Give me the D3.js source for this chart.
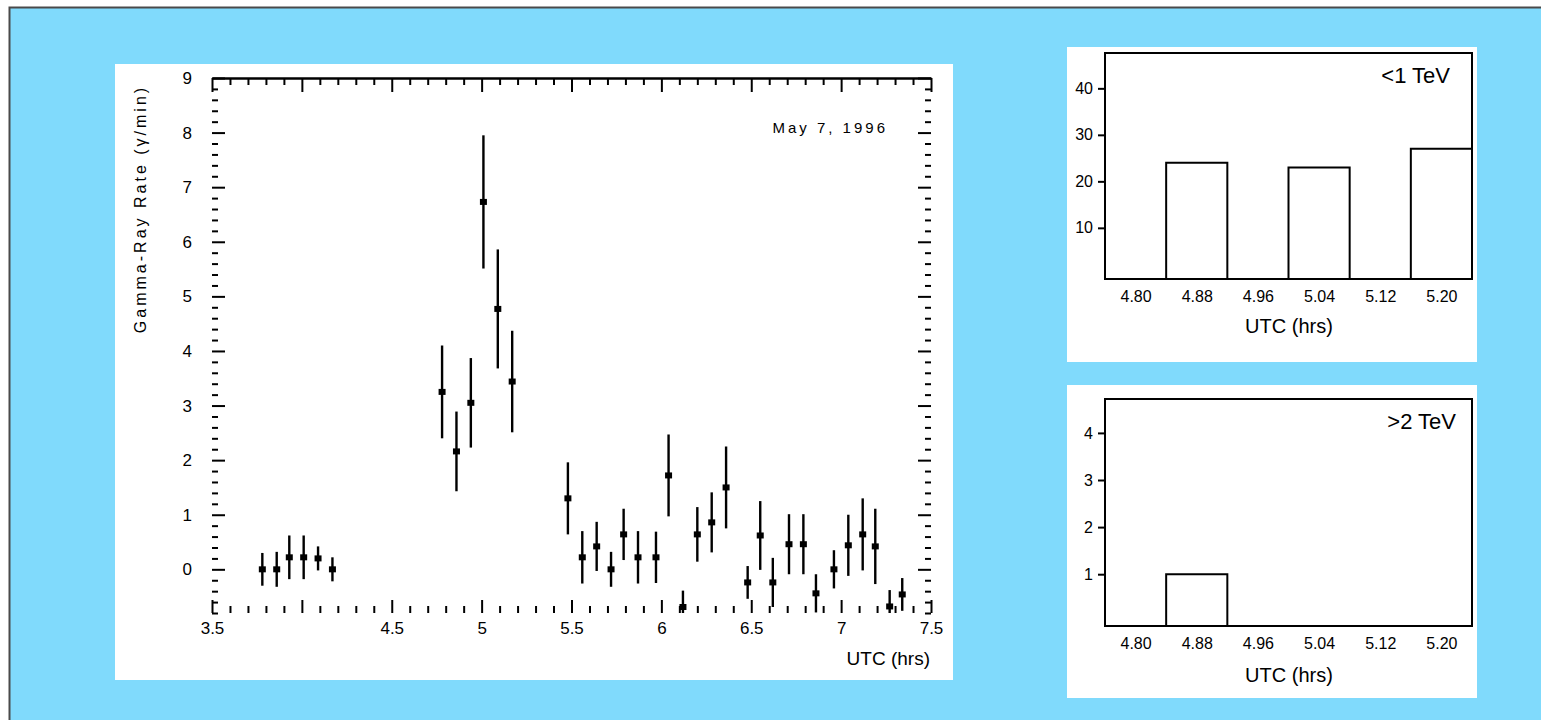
<!DOCTYPE html>
<html>
<head>
<meta charset="utf-8">
<script src="https://cdn.jsdelivr.net/npm/d3@7"></script>
<style>
  html, body { margin: 0; padding: 0; background: #fff; }
  svg { display: block; font-family: "Liberation Sans", Arial, Helvetica, sans-serif; }
</style>
</head>
<body>
<svg id="chart" width="1545" height="720"></svg>
<script>
// ---- Light curve, May 7 1996: bin centre (UTC hours), rate (gamma/min), 1-sigma error ----
const times = [3.78, 3.86, 3.93, 4.01, 4.09, 4.17,
               4.78, 4.86, 4.94, 5.01, 5.09, 5.17,
               5.48, 5.56, 5.64, 5.72, 5.79, 5.87, 5.97, 6.04, 6.12, 6.20, 6.28, 6.36,
               6.48, 6.55, 6.62, 6.71, 6.79, 6.86, 6.96, 7.04, 7.12, 7.19, 7.27, 7.34];
const rates = [0.00, 0.00, 0.22, 0.22, 0.20, 0.00,
               3.25, 2.16, 3.05, 6.73, 4.77, 3.44,
               1.30, 0.22, 0.42, 0.00, 0.64, 0.22, 0.22, 1.72, -0.69, 0.64, 0.86, 1.50,
               -0.24, 0.62, -0.24, 0.46, 0.46, -0.44, 0.00, 0.44, 0.64, 0.42, -0.68, -0.46];
const errors = [0.30, 0.32, 0.40, 0.40, 0.22, 0.22,
                0.85, 0.73, 0.82, 1.22, 1.09, 0.93,
                0.66, 0.48, 0.45, 0.32, 0.47, 0.48, 0.47, 0.75, 0.30, 0.50, 0.55, 0.75,
                0.30, 0.63, 0.45, 0.55, 0.55, 0.35, 0.35, 0.56, 0.66, 0.69, 0.30, 0.30];

const xTicks      = [3.5, 4, 4.5, 5, 5.5, 6, 6.5, 7, 7.5];
const xTickLabels = ["3.5", "", "4.5", "5", "5.5", "6", "6.5", "7", "7.5"];
const yTicks      = [0, 1, 2, 3, 4, 5, 6, 7, 8, 9];
const yTickLabels = ["0", "1", "2", "3", "4", "5", "6", "7", "8", "9"];

// ---- Photon counts per 0.08 h bin, split by energy ----
const binCenters      = [4.80, 4.88, 4.96, 5.04, 5.12, 5.20];
const countsBelow1TeV = [0, 24, 0, 23, 0, 27];
const countsAbove2TeV = [0, 1, 0, 0, 0, 0];
const lowTicks  = [10, 20, 30, 40];
const highTicks = [1, 2, 3, 4];

const svg = d3.select("#chart");
const INK = "#000";

// page background
svg.append("rect").attr("x", 9).attr("y", 7).attr("width", 1532).attr("height", 713)
  .attr("fill", "#80dafc");
svg.append("path").attr("d", "M9.5,720V7.5H1541")
  .attr("fill", "none").attr("stroke", "#4a4a4a").attr("stroke-width", 2);

// ================= main light curve =================
svg.append("rect").attr("x", 115).attr("y", 64).attr("width", 838).attr("height", 616).attr("fill", "#fff");

const x = d3.scaleLinear().domain([3.5, 7.5]).range([212, 931]);
const y = d3.scaleLinear().domain([-0.8, 9]).range([613, 78]);

const minorX = d3.range(35, 76).map(d => d / 10).filter(d => Math.round(d * 10) % 5 !== 0);
const minorY = d3.range(-4, 46).map(d => d / 5).filter(d => Math.round(d * 5) % 5 !== 0);

function styleAxis(g, keepDomain, fontSize) {
  g.selectAll(".tick line").attr("stroke", INK).attr("stroke-width", 2);
  g.selectAll("text").attr("font-size", fontSize || 17).attr("fill", INK)
    .attr("font-family", "'Liberation Sans', Arial, sans-serif");
  if (keepDomain) g.select(".domain").attr("stroke", INK).attr("stroke-width", 2.5);
  else g.select(".domain").remove();
}

// bottom
svg.append("g").attr("transform", "translate(0,613)")
  .call(d3.axisBottom(x).tickValues(xTicks).tickFormat((d, i) => xTickLabels[i]).tickSize(-13).tickPadding(9))
  .call(g => styleAxis(g, false, 17));
svg.append("g").attr("transform", "translate(0,613)")
  .call(d3.axisBottom(x).tickValues(minorX).tickFormat("").tickSize(-7))
  .call(g => styleAxis(g, false));
// top
svg.append("g").attr("transform", "translate(0,78)")
  .call(d3.axisTop(x).tickValues(xTicks).tickFormat("").tickSize(-14).tickSizeOuter(0))
  .call(g => styleAxis(g, true));
svg.append("g").attr("transform", "translate(0,78)")
  .call(d3.axisTop(x).tickValues(minorX).tickFormat("").tickSize(-7))
  .call(g => styleAxis(g, false));
// left
svg.append("g").attr("transform", "translate(212,0)")
  .call(d3.axisLeft(y).tickValues(yTicks).tickFormat((d, i) => yTickLabels[i]).tickSize(-13).tickPadding(20))
  .call(g => styleAxis(g, false, 17));
svg.append("g").attr("transform", "translate(212,0)")
  .call(d3.axisLeft(y).tickValues(minorY).tickFormat("").tickSize(-6))
  .call(g => styleAxis(g, false));
// right
svg.append("g").attr("transform", "translate(931,0)")
  .call(d3.axisRight(y).tickValues(yTicks).tickFormat("").tickSize(-13))
  .call(g => styleAxis(g, false));
svg.append("g").attr("transform", "translate(931,0)")
  .call(d3.axisRight(y).tickValues(minorY).tickFormat("").tickSize(-6))
  .call(g => styleAxis(g, false));

// data points with error bars
svg.append("clipPath").attr("id", "plotArea")
  .append("rect").attr("x", 212).attr("y", 78).attr("width", 719).attr("height", 535);
const pts = times.map((t, i) => ({ t, r: rates[i], e: errors[i] }));
const plot = svg.append("g").attr("clip-path", "url(#plotArea)");
plot.selectAll("line.err").data(pts).join("line").attr("class", "err")
  .attr("x1", d => x(d.t)).attr("x2", d => x(d.t))
  .attr("y1", d => y(d.r + d.e)).attr("y2", d => y(d.r - d.e))
  .attr("stroke", INK).attr("stroke-width", 2.4);
plot.selectAll("rect.pt").data(pts).join("rect").attr("class", "pt")
  .attr("x", d => x(d.t) - 3.5).attr("y", d => y(d.r) - 3)
  .attr("width", 7).attr("height", 6).attr("fill", INK);

// titles
svg.append("text")
  .attr("transform", "translate(146,209) rotate(-90)")
  .attr("text-anchor", "middle").attr("font-size", 16).attr("letter-spacing", 3).attr("fill", INK)
  .text("Gamma-Ray Rate (γ/min)");
svg.append("text").attr("x", 930).attr("y", 665).attr("text-anchor", "end")
  .attr("font-size", 19).attr("fill", INK).text("UTC (hrs)");
svg.append("text").attr("x", 888).attr("y", 133).attr("text-anchor", "end")
  .attr("font-size", 15).attr("letter-spacing", 3).attr("fill", INK).text("May 7, 1996");

// ================= energy-split histograms =================
function histPanel(cfg) {
  svg.append("rect").attr("x", 1067).attr("y", cfg.bgTop).attr("width", 410).attr("height", cfg.bgHeight)
    .attr("fill", "#fff");
  const hx = d3.scaleLinear().domain([4.76, 5.24]).range([1105, 1472]);
  const hy = d3.scaleLinear().domain(cfg.yDomain).range([cfg.bottom, cfg.top]);
  const half = 0.04;

  // histogram bars (open outline standing on the frame baseline)
  svg.append("g").selectAll("path").data(cfg.counts.map((c, i) => ({ c, m: binCenters[i] })).filter(d => d.c > 0))
    .join("path")
    .attr("d", d => `M${hx(d.m - half)},${cfg.bottom}V${hy(d.c)}H${hx(d.m + half)}V${cfg.bottom}`)
    .attr("fill", "none").attr("stroke", INK).attr("stroke-width", 2);

  // frame
  svg.append("rect").attr("x", 1105).attr("y", cfg.top).attr("width", 367).attr("height", cfg.bottom - cfg.top)
    .attr("fill", "none").attr("stroke", INK).attr("stroke-width", 2);

  // y axis
  svg.append("g").attr("transform", "translate(1105,0)")
    .call(d3.axisLeft(hy).tickValues(cfg.ticks).tickFormat(d3.format("d")).tickSize(7).tickPadding(5))
    .call(g => styleAxis(g, false, 16));

  // x labels at bin centres
  svg.append("g").attr("transform", `translate(0,${cfg.bottom})`)
    .call(d3.axisBottom(hx).tickValues(binCenters).tickFormat(d3.format(".2f")).tickSize(0).tickPadding(12))
    .call(g => styleAxis(g, false, 16));

  svg.append("text").attr("x", 1289).attr("y", cfg.titleY).attr("text-anchor", "middle")
    .attr("font-size", 20).attr("fill", INK).text("UTC (hrs)");
  svg.append("text").attr("x", cfg.labelX).attr("y", cfg.top + 30).attr("text-anchor", "end")
    .attr("font-size", 22).attr("fill", INK).text(cfg.label);
}

histPanel({ bgTop: 47, bgHeight: 315, top: 53, bottom: 279, yDomain: [-1, 47.6],
  counts: countsBelow1TeV, ticks: lowTicks, titleY: 333, label: "<1 TeV", labelX: 1450 });
histPanel({ bgTop: 385, bgHeight: 313, top: 399, bottom: 626, yDomain: [-0.1, 4.72],
  counts: countsAbove2TeV, ticks: highTicks, titleY: 682, label: ">2 TeV", labelX: 1456 });
</script>
</body>
</html>
